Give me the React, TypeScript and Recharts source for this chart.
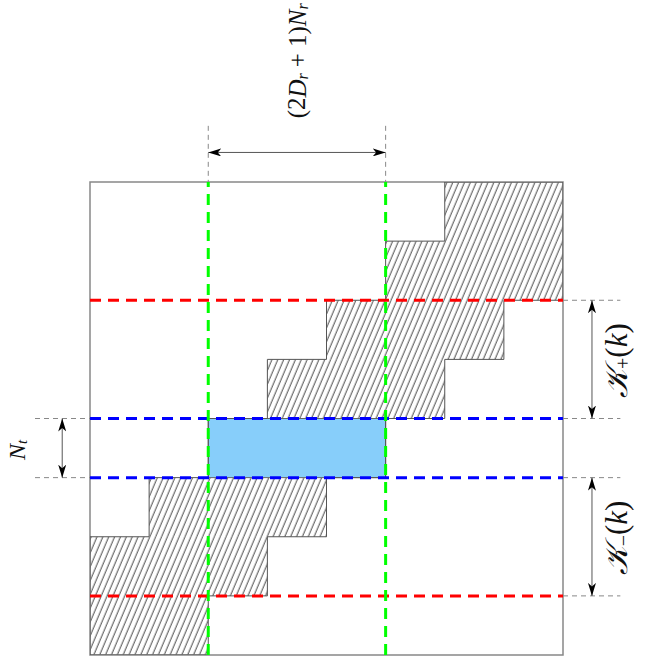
import React from 'react';
import {
  ComposedChart,
  XAxis,
  YAxis,
  ReferenceArea,
  ReferenceLine,
  ReferenceDot,
  Line,
} from 'recharts';

// Block-banded matrix: for each block row, the first and last (exclusive) nonzero block column
const rowStart = [6, 5, 4, 3, 2, 1, 0, 0];
const rowEnd = [8, 8, 7, 6, 5, 4, 3, 2];
const gridSize = 8;
const activeRow = 4;
const windowCols = [2, 5];
const redRows = [2, 7];
const blueRows = [4, 5];
const kPlusRows = [2, 4];
const kMinusRows = [5, 7];

// Closed outline of the banded (hatched) region, walked from the top-left corner
const outline: { x: number; y: number }[] = (() => {
  const pts: { x: number; y: number }[] = [];
  for (let r = 0; r < rowStart.length; r++) {
    pts.push({ x: rowStart[r], y: r });
    pts.push({ x: rowStart[r], y: r + 1 });
  }
  for (let r = rowEnd.length - 1; r >= 0; r--) {
    pts.push({ x: rowEnd[r], y: r + 1 });
    pts.push({ x: rowEnd[r], y: r });
  }
  pts.push({ ...pts[0] });
  return pts;
})();

const W = 645;
const H = 665;
const SERIF = '"Liberation Serif", "DejaVu Serif", serif';

const arrowShape = (p: any) => (
  <line
    x1={p.x1}
    y1={p.y1}
    x2={p.x2}
    y2={p.y2}
    stroke="#555"
    strokeWidth={1}
    markerStart="url(#arrHead)"
    markerEnd="url(#arrHead)"
  />
);

const guide = { stroke: '#888', strokeWidth: 1, strokeDasharray: '5 4' };

const rotText = (content: React.ReactNode, size: number) => (p: any) => (
  <text
    x={p.cx}
    y={p.cy}
    transform={`rotate(-90 ${p.cx} ${p.cy})`}
    textAnchor="middle"
    dominantBaseline="central"
    fontFamily={SERIF}
    fontSize={size}
    fill="#111"
  >
    {content}
  </text>
);

export default function App() {
  return (
    <div style={{ position: 'absolute', left: 0, top: 0, width: W, height: H, background: '#fff' }}>
      <ComposedChart
        width={W}
        height={H}
        margin={{ top: 182, right: 82, bottom: 10, left: 90 }}
      >
        <defs>
          <pattern
            id="hatch"
            patternUnits="userSpaceOnUse"
            width={5.4}
            height={10}
            patternTransform="rotate(23)"
          >
            <line x1={2} y1={-2} x2={2} y2={12} stroke="#222" strokeWidth={0.85} />
          </pattern>
          <marker
            id="arrHead"
            viewBox="0 0 13 8"
            refX={13}
            refY={4}
            markerWidth={13}
            markerHeight={8}
            markerUnits="userSpaceOnUse"
            orient="auto-start-reverse"
          >
            <path d="M0,0 L13,4 L0,8 L3.5,4 Z" fill="#000" />
          </marker>
        </defs>
        <XAxis dataKey="x" type="number" domain={[0, gridSize]} hide allowDataOverflow />
        <YAxis dataKey="y" type="number" domain={[0, gridSize]} reversed hide allowDataOverflow />

        {rowStart.map((s, r) =>
          r === activeRow ? null : (
            <ReferenceArea
              key={`h${r}`}
              x1={s}
              x2={rowEnd[r]}
              y1={r}
              y2={r + 1}
              fill="url(#hatch)"
              fillOpacity={1}
              stroke="none"
              ifOverflow="visible"
            />
          ),
        )}
        <ReferenceArea
          x1={rowStart[activeRow]}
          x2={rowEnd[activeRow]}
          y1={activeRow}
          y2={activeRow + 1}
          fill="#87CEFA"
          fillOpacity={1}
          stroke="#666"
          strokeWidth={1}
          ifOverflow="visible"
        />
        <Line
          data={outline}
          dataKey="y"
          stroke="#555"
          strokeWidth={1}
          dot={false}
          isAnimationActive={false}
          type="linear"
        />
        <ReferenceArea
          x1={0}
          x2={gridSize}
          y1={0}
          y2={gridSize}
          fill="none"
          stroke="#888"
          strokeWidth={1.5}
          ifOverflow="visible"
        />

        {/* guide extensions outside the matrix */}
        {windowCols.map((c) => (
          <ReferenceLine
            key={`gt${c}`}
            segment={[{ x: c, y: -0.95 }, { x: c, y: 0 }]}
            {...guide}
            ifOverflow="visible"
          />
        ))}
        {blueRows.map((r) => (
          <ReferenceLine
            key={`gl${r}`}
            segment={[{ x: -0.93, y: r }, { x: 0, y: r }]}
            {...guide}
            ifOverflow="visible"
          />
        ))}
        {[...kPlusRows, ...kMinusRows].map((r, i) => (
          <ReferenceLine
            key={`gr${i}`}
            segment={[{ x: gridSize, y: r }, { x: gridSize + 0.97, y: r }]}
            {...guide}
            ifOverflow="visible"
          />
        ))}

        {/* dimension arrows */}
        <ReferenceLine
          segment={[{ x: windowCols[0], y: -0.5 }, { x: windowCols[1], y: -0.5 }]}
          shape={arrowShape}
          ifOverflow="visible"
        />
        <ReferenceLine
          segment={[{ x: -0.47, y: blueRows[0] }, { x: -0.47, y: blueRows[1] }]}
          shape={arrowShape}
          ifOverflow="visible"
        />
        <ReferenceLine
          segment={[{ x: gridSize + 0.49, y: kPlusRows[0] }, { x: gridSize + 0.49, y: kPlusRows[1] }]}
          shape={arrowShape}
          ifOverflow="visible"
        />
        <ReferenceLine
          segment={[{ x: gridSize + 0.49, y: kMinusRows[0] }, { x: gridSize + 0.49, y: kMinusRows[1] }]}
          shape={arrowShape}
          ifOverflow="visible"
        />

        {/* dashed partition lines */}
        {redRows.map((r) => (
          <ReferenceLine key={`r${r}`} y={r} stroke="#ff0000" strokeWidth={3} strokeDasharray="11 7" />
        ))}
        {blueRows.map((r) => (
          <ReferenceLine key={`b${r}`} y={r} stroke="#0000ff" strokeWidth={3} strokeDasharray="11 7" />
        ))}
        {windowCols.map((c) => (
          <ReferenceLine key={`g${c}`} x={c} stroke="#00ff00" strokeWidth={3} strokeDasharray="11 7" />
        ))}

        {/* labels */}
        <ReferenceDot
          x={3.5}
          y={-2.05}
          r={0}
          ifOverflow="visible"
          shape={rotText(
            <>
              (2<tspan fontStyle="italic">D</tspan>
              <tspan fontSize={16} fontStyle="italic" dy={5}>r</tspan>
              <tspan dy={-5} dx={6}>+</tspan>
              <tspan dx={6}>1)</tspan>
              <tspan fontStyle="italic">N</tspan>
              <tspan fontSize={16} fontStyle="italic" dy={5}>r</tspan>
            </>,
            25,
          )}
        />
        <ReferenceDot
          x={-1.23}
          y={4.53}
          r={0}
          ifOverflow="visible"
          shape={rotText(
            <>
              <tspan fontStyle="italic">N</tspan>
              <tspan fontSize={15} fontStyle="italic" dy={5}>t</tspan>
            </>,
            24,
          )}
        />
        <ReferenceDot
          x={gridSize + 0.9}
          y={3.02}
          r={0}
          ifOverflow="visible"
          shape={rotText(
            <>
              <tspan fontStyle="italic">𝒦</tspan>
              <tspan fontSize={20} dy={7}>+</tspan>
              <tspan dy={-7}>(</tspan>
              <tspan fontStyle="italic">k</tspan>)
            </>,
            31,
          )}
        />
        <ReferenceDot
          x={gridSize + 0.9}
          y={6.02}
          r={0}
          ifOverflow="visible"
          shape={rotText(
            <>
              <tspan fontStyle="italic">𝒦</tspan>
              <tspan fontSize={20} dy={7}>−</tspan>
              <tspan dy={-7}>(</tspan>
              <tspan fontStyle="italic">k</tspan>)
            </>,
            31,
          )}
        />
      </ComposedChart>
    </div>
  );
}
